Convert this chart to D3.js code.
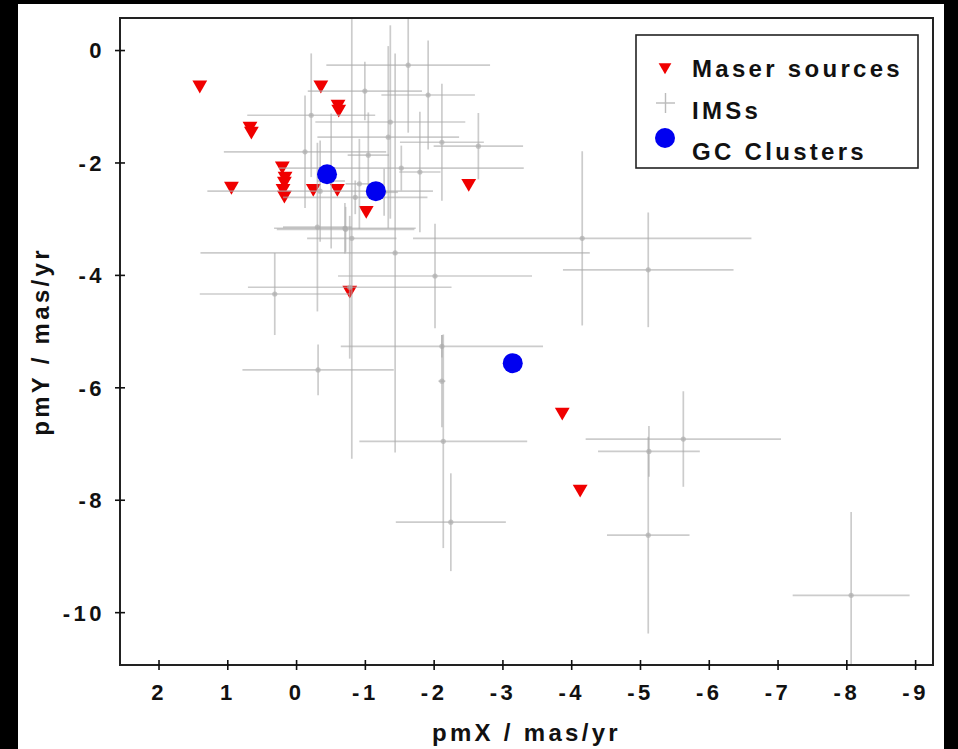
<!DOCTYPE html>
<html>
<head>
<meta charset="utf-8">
<script src="https://cdn.jsdelivr.net/npm/d3@7"></script>
<style>
  html, body { margin: 0; padding: 0; background: #000; }
  svg text { font-family: "Liberation Sans", Arial, sans-serif; font-weight: bold; fill: #111; }
</style>
</head>
<body>
<div id="chart"></div>
<script>
// Maser sources (red triangles)
const maserX = [1.40, -0.36, -0.61, -0.62, 0.67, 0.65, 0.94, 0.20, 0.16, 0.17, 0.19, 0.17, -0.25, -0.60, -1.02, -2.51, -0.78, -3.87, -4.13];
const maserY = [-0.62, -0.62, -0.96, -1.05, -1.35, -1.44, -2.42, -2.06, -2.24, -2.33, -2.46, -2.58, -2.46, -2.46, -2.85, -2.37, -4.27, -6.44, -7.81];

// IMSs (grey crosses with error bars)
const imsX    = [-8.07, -5.12, -5.63, -5.13, -5.12, -4.16, -2.25, -2.14, -2.12, -2.12, -2.02, -1.44, -0.32, 0.31, -0.71, -0.72, -0.78, -0.81, -0.31, -1.63, -1.00, -1.92, -0.22, -1.37, -1.34, -0.13, -2.12, -2.65, -1.53, -1.80, -0.35, -0.86, -1.05, -0.51, -0.92, -1.28];
const imsY    = [-9.70, -8.63, -6.92, -7.14, -3.91, -3.35, -8.40, -6.96, -5.27, -5.89, -4.02, -3.61, -5.69, -4.34, -3.17, -3.19, -4.22, -3.35, -3.15, -0.27, -0.73, -0.80, -1.16, -1.28, -1.55, -1.81, -1.64, -1.71, -2.10, -2.17, -2.51, -2.62, -1.87, -2.33, -2.38, -2.53];
const imsXErr = [0.85, 0.60, 1.42, 0.74, 1.24, 2.46, 0.80, 1.22, 1.47, 0.05, 1.41, 2.83, 1.10, 1.09, 1.03, 1.00, 1.48, 0.65, 0.50, 1.19, 0.83, 0.68, 0.93, 1.09, 1.03, 1.18, 0.61, 0.65, 1.78, 0.30, 1.64, 1.05, 0.30, 0.20, 0.20, 0.20];
const imsYErr = [1.48, 1.75, 0.85, 0.45, 1.02, 1.55, 0.87, 1.90, 0.20, 0.82, 0.93, 3.55, 0.45, 0.73, 0.45, 0.40, 1.27, 3.92, 1.50, 1.20, 0.52, 0.97, 1.10, 1.72, 1.62, 1.00, 1.04, 0.59, 0.40, 1.07, 0.90, 0.30, 0.76, 1.20, 0.80, 0.42];

// GC clusters (blue circles)
const gcX = [-0.45, -1.16, -3.15];
const gcY = [-2.21, -2.51, -5.57];

const xTicks = [2, 1, 0, -1, -2, -3, -4, -5, -6, -7, -8, -9];
const yTicks = [0, -2, -4, -6, -8, -10];

const legendLabels = ["Maser sources", "IMSs", "GC Clusters"];

const width = 958, height = 749;
const margin = { top: 18, right: 25, bottom: 84, left: 120 };

const svg = d3.select("#chart").append("svg")
    .attr("width", width)
    .attr("height", height);

// black border + white page
svg.append("rect").attr("width", width).attr("height", height).attr("fill", "#000");
svg.append("rect").attr("x", 18).attr("y", 4).attr("width", 926).attr("height", height - 4).attr("fill", "#fff");

const x = d3.scaleLinear()
    .domain([2.56, -9.26])
    .range([margin.left, width - margin.right]);

const y = d3.scaleLinear()
    .domain([-10.94, 0.57])
    .range([height - margin.bottom, margin.top]);

const fmt = d => d < 0 ? "-" + Math.abs(d) : String(d);

svg.append("clipPath").attr("id", "plot-clip")
    .append("rect")
    .attr("x", margin.left).attr("y", margin.top)
    .attr("width", width - margin.left - margin.right)
    .attr("height", height - margin.top - margin.bottom);

const plot = svg.append("g").attr("clip-path", "url(#plot-clip)");

// Maser sources
const tri = d3.symbol().type(d3.symbolTriangle).size(95);
plot.selectAll(".maser")
    .data(maserX.map((v, i) => ({ x: v, y: maserY[i] })))
    .enter()
    .append("path")
    .attr("class", "maser")
    .attr("d", tri)
    .attr("transform", d => `translate(${x(d.x)},${y(d.y)}) rotate(180)`)
    .style("fill", "#f00000");

// IMSs
const ims = imsX.map((v, i) => ({ x: v, y: imsY[i], ex: imsXErr[i], ey: imsYErr[i] }));
const imsG = plot.selectAll(".ims")
    .data(ims)
    .enter()
    .append("g")
    .attr("class", "ims");

imsG.append("line")
    .attr("x1", d => x(d.x - d.ex)).attr("x2", d => x(d.x + d.ex))
    .attr("y1", d => y(d.y)).attr("y2", d => y(d.y));
imsG.append("line")
    .attr("x1", d => x(d.x)).attr("x2", d => x(d.x))
    .attr("y1", d => y(d.y - d.ey)).attr("y2", d => y(d.y + d.ey));
imsG.selectAll("line")
    .style("stroke", "rgba(170,170,170,0.6)")
    .style("stroke-width", 1.7);
imsG.append("circle")
    .attr("cx", d => x(d.x)).attr("cy", d => y(d.y))
    .attr("r", 2.6)
    .style("fill", "rgba(175,175,175,0.7)");

// GC clusters
plot.selectAll(".gc")
    .data(gcX.map((v, i) => ({ x: v, y: gcY[i] })))
    .enter()
    .append("circle")
    .attr("class", "gc")
    .attr("cx", d => x(d.x))
    .attr("cy", d => y(d.y))
    .attr("r", 10)
    .style("fill", "#0000f0");

// Frame
svg.append("rect")
    .attr("x", margin.left).attr("y", margin.top)
    .attr("width", width - margin.left - margin.right)
    .attr("height", height - margin.top - margin.bottom)
    .attr("fill", "none")
    .attr("stroke", "#222")
    .attr("stroke-width", 2);

// Axes
const xAxis = svg.append("g")
    .attr("transform", `translate(0,${height - margin.bottom})`)
    .call(d3.axisBottom(x).tickValues(xTicks).tickFormat(fmt).tickSize(5).tickPadding(14));

const yAxis = svg.append("g")
    .attr("transform", `translate(${margin.left},0)`)
    .call(d3.axisLeft(y).tickValues(yTicks).tickFormat(fmt).tickSize(5).tickPadding(10));

[xAxis, yAxis].forEach(a => {
    a.select(".domain").remove();
    a.selectAll(".tick line").attr("stroke", "#111").attr("stroke-width", 1.6);
    a.selectAll(".tick text")
        .style("font-size", "22px")
        .style("font-family", "'Liberation Sans', Arial, sans-serif")
        .style("font-weight", "bold")
        .style("letter-spacing", "3.5px")
        .attr("fill", "#111");
});
xAxis.selectAll(".tick line").attr("y1", -5).attr("y2", 5);
yAxis.selectAll(".tick line").attr("x1", -5).attr("x2", 5);
yAxis.selectAll(".tick text").attr("dy", "0.36em");

// Axis titles
svg.append("text")
    .attr("x", (margin.left + width - margin.right) / 2)
    .attr("y", 741)
    .attr("text-anchor", "middle")
    .style("font-size", "24px")
    .style("letter-spacing", "3.3px")
    .text("pmX / mas/yr");

svg.append("text")
    .attr("transform", `translate(49,${(margin.top + height - margin.bottom) / 2}) rotate(-90)`)
    .attr("text-anchor", "middle")
    .style("font-size", "24px")
    .style("letter-spacing", "3.3px")
    .text("pmY / mas/yr");

// Legend
const legend = svg.append("g");
legend.append("rect")
    .attr("x", 636).attr("y", 35)
    .attr("width", 282).attr("height", 133)
    .attr("fill", "#fff")
    .attr("stroke", "#222")
    .attr("stroke-width", 1.6);

legend.append("path")
    .attr("d", d3.symbol().type(d3.symbolTriangle).size(70))
    .attr("transform", "translate(665,67) rotate(180)")
    .style("fill", "#f00000");

legend.append("line").attr("x1", 656).attr("x2", 675).attr("y1", 103).attr("y2", 103)
    .style("stroke", "#bbb").style("stroke-width", 1.4);
legend.append("line").attr("x1", 665.5).attr("x2", 665.5).attr("y1", 93).attr("y2", 113)
    .style("stroke", "#bbb").style("stroke-width", 1.4);

legend.append("circle").attr("cx", 665).attr("cy", 138).attr("r", 10).style("fill", "#0000f0");

legend.selectAll(".lbl")
    .data(legendLabels)
    .enter()
    .append("text")
    .attr("class", "lbl")
    .attr("x", 692)
    .attr("y", (d, i) => 77 + i * 41.5)
    .style("font-size", "24px")
    .style("letter-spacing", "3.3px")
    .text(d => d);
</script>
</body>
</html>
